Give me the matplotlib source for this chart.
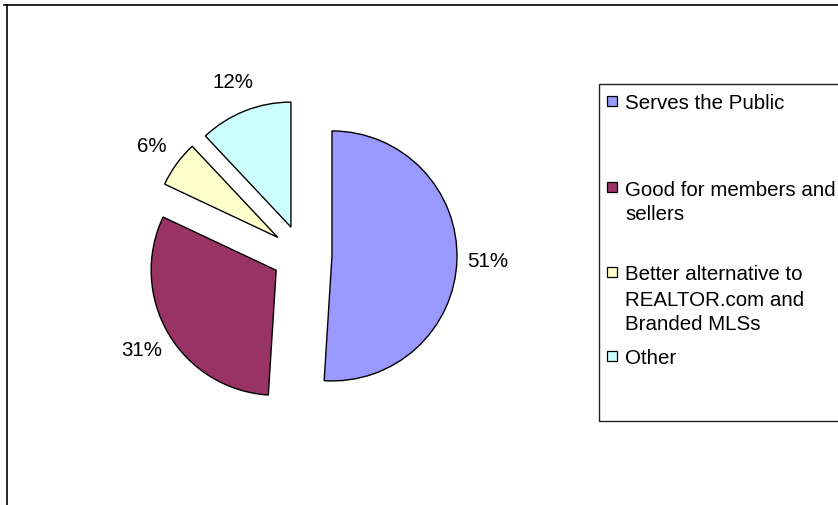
import numpy as np
import matplotlib
matplotlib.use("Agg")
import matplotlib.pyplot as plt
from matplotlib.patches import Rectangle
from matplotlib.lines import Line2D

plt.rcParams['font.family'] = ['Liberation Sans', 'DejaVu Sans']

# ── data ──────────────────────────────────────────────────────────────────────
categories = ['Serves the Public',
              'Good for members and\nsellers',
              'Better alternative to\nREALTOR.com and\nBranded MLSs',
              'Other']
shares = [51, 31, 6, 12]
colors = ['#9999FF', '#993366', '#FFFFCC', '#CCFFFF']

W, H = 838, 506
FS = 14.8
fig = plt.figure(figsize=(W / 100, H / 100), dpi=100)
fig.patch.set_facecolor('white')

# pie axes: centre (302, 256) px, radius 125 px
cx, cy, half = 302, 256, 200
ax = fig.add_axes([(cx - half) / W, (H - cy - half) / H, 2 * half / W, 2 * half / H])

wedges, texts, autotexts = ax.pie(
    shares, colors=colors, explode=[0.24] * len(shares), startangle=90,
    counterclock=False, radius=1.0, autopct='%1.0f%%', pctdistance=1.25,
    wedgeprops=dict(edgecolor='black', linewidth=1.0),
    textprops=dict(fontsize=FS, color='black'))

# pie() resets the limits, so fix the scale afterwards
ax.set_xlim(-1.6, 1.6)
ax.set_ylim(-1.6, 1.6)
ax.set_aspect('equal')
ax.axis('off')

# ── legend box ────────────────────────────────────────────────────────────────
def px(x, y):
    return x / W, 1 - y / H

bx0, by0, bx1, by1 = 599, 85, 845, 422
fig.add_artist(Rectangle(px(bx0, by1), (bx1 - bx0) / W, (by1 - by0) / H,
                         transform=fig.transFigure, facecolor='white',
                         edgecolor='#222222', linewidth=1.0))

entry_y = [102, 188, 273, 357]   # centre of first line of each entry, px
line_step = 25
for lbl, col, y in zip(categories, colors, entry_y):
    fig.add_artist(Rectangle(px(607, y + 5), 10 / W, 10 / H, transform=fig.transFigure,
                             facecolor=col, edgecolor='black', linewidth=0.9))
    for i, line in enumerate(lbl.split('\n')):
        fig.text(*px(625, y + i * line_step), line, ha='left', va='center_baseline',
                 fontsize=FS)

# ── chart frame ───────────────────────────────────────────────────────────────
fig.add_artist(Line2D([4 / W, 1], [1 - 6 / H] * 2, transform=fig.transFigure,
                      color='black', linewidth=1.2))
fig.add_artist(Line2D([7 / W] * 2, [1 - 6 / H, 0], transform=fig.transFigure,
                      color='black', linewidth=1.2))

fig.savefig('out.png', dpi=100, facecolor='white')
